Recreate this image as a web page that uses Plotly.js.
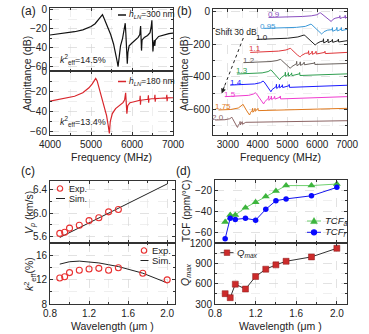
<!DOCTYPE html>
<html><head><meta charset="utf-8">
<script src="https://cdn.plot.ly/plotly-3.0.1.min.js"></script>
<style>html,body{margin:0;padding:0;background:#fff}#chart{width:369px;height:334px}</style>
</head><body><div id="chart"></div>
<script>
// ---------- Panel (a) ----------
const fA300 = [4000,4200,4400,4600,4800,5000,5100,5180,5230,5280,5320,5400,5480,5550,5600,5640,5660,5680,5720,5770,5810,5835,5850,5870,5885,5900,5930,6000,6080,6150,6190,6210,6220,6232,6245,6300,6380,6440,6470,6485,6495,6510,6525,6545,6555,6570,6650,6800,6900,7000];
const dA300 = [-26.5,-25.5,-24.5,-23,-21,-17.5,-14.5,-10.5,-7.5,-5,-9,-17,-26,-36,-45,-55,-60,-50,-38,-30,-22,-14,-25,-45,-57,-45,-38,-35,-32,-29,-26,-17,-28,-43,-32,-29,-27,-24,-17,-11,-25,-44,-36,-32,-38,-32,-28,-26,-25,-24.5];
const fA180 = [4000,4300,4600,4800,4950,5030,5080,5115,5150,5200,5270,5330,5380,5420,5448,5470,5520,5600,5700,5780,5820,5845,5858,5875,5895,5950,6050,6150,6190,6200,6206,6215,6300,6390,6400,6406,6415,6480,6550,6560,6566,6575,6700,6840,6850,6856,6865,7000];
const dA180 = [-29.5,-27,-24.5,-21,-16,-12,-8.5,-6.5,-9,-17,-27,-36,-44,-54,-62,-50,-42,-37,-34,-31,-28,-21,-30,-42,-34,-31,-30,-29,-28.5,-24,-33,-28.5,-28,-27.5,-23.5,-31,-27.5,-27,-26.8,-23,-30,-26.8,-26.5,-26.2,-23,-29.5,-26.2,-26];
const a300Label = 'h_LN=300 nm', a180Label = 'h_LN=180 nm';
const k300 = '14.5%', k180 = '13.4%';

// ---------- Panel (b) ----------
const bNames = ['0.9','0.95','1.0','1.1','1.2','1.3','1.4','1.5','1.75','2.0'];
const fB09 = [4365,5000,5500,5800,6000,6070,6100,6160,6250,6350,6440,6470,6520,6600,6700,6750,6760,6770,6850,6930,6940,6950,7000];
const dB09 = [-35,-33,-29,-25,-18,-9,-6,-14,-27,-42,-58,-60,-48,-40,-36,-35,-24,-42,-35,-34,-22,-40,-33];
const fB095 = [4197,4800,5300,5600,5740,5790,5820,5900,6000,6100,6150,6170,6230,6350,6500,6510,6520,6650,6660,6670,6800,6810,6820,7000];
const dB095 = [-102,-100,-96,-90,-82,-76,-80,-95,-112,-128,-137,-134,-122,-113,-110,-98,-120,-109,-96,-118,-108,-97,-116,-108];
const fB10 = [3975,4500,5000,5350,5500,5560,5600,5700,5800,5900,5935,5980,6100,6200,6210,6220,6350,6360,6370,6500,6510,6520,6700,6710,6720,7000];
const dB10 = [-170,-168,-163,-155,-148,-143,-148,-165,-185,-200,-205,-196,-184,-180,-166,-192,-179,-168,-190,-178,-170,-188,-178,-168,-186,-178];
const fB11 = [3750,4200,4700,4950,5060,5095,5130,5220,5330,5410,5430,5480,5600,5700,5710,5720,5820,5830,5840,5950,5960,5970,6250,6260,6270,7000];
const dB11 = [-250,-248,-242,-235,-228,-225,-230,-247,-265,-276,-277,-268,-256,-253,-240,-264,-252,-242,-262,-251,-243,-260,-250,-243,-257,-250];
const fB12 = [3525,4000,4450,4650,4730,4760,4800,4900,5000,5070,5095,5140,5250,5300,5310,5320,5420,5430,5440,5550,5560,5570,5900,5910,5920,7000];
const dB12 = [-313,-311,-306,-300,-295,-293,-298,-315,-333,-345,-348,-338,-322,-320,-305,-332,-320,-308,-330,-318,-310,-326,-316,-310,-324,-318];
const fB13 = [3302,3800,4150,4350,4410,4440,4480,4580,4680,4720,4740,4790,4880,4920,4930,4940,5020,5030,5040,5130,5140,5150,5400,5410,5420,7000];
const dB13 = [-383,-381,-376,-368,-361,-358,-364,-385,-405,-416,-418,-405,-390,-388,-372,-398,-386,-374,-396,-384,-376,-393,-382,-374,-392,-382];
const fB14 = [3077,3550,3900,4100,4160,4180,4220,4310,4400,4430,4445,4490,4580,4620,4630,4640,4720,4730,4740,4820,4830,4840,5050,5060,5070,7000];
const dB14 = [-451,-449,-444,-436,-429,-426,-432,-455,-478,-488,-492,-478,-462,-460,-446,-472,-459,-447,-468,-457,-449,-466,-455,-447,-465,-452];
const fB15 = [2909,3350,3700,3860,3905,3920,3960,4050,4150,4185,4200,4240,4320,4360,4370,4380,4450,4460,4470,4560,4570,4580,4750,4760,4770,7000];
const dB15 = [-522,-520,-514,-506,-500,-498,-504,-528,-552,-563,-567,-553,-535,-532,-518,-545,-530,-519,-540,-528,-520,-537,-526,-518,-536,-522];
const fB175 = [2684,3100,3350,3460,3495,3505,3540,3620,3700,3722,3730,3760,3820,3830,3840,3900,3910,3920,4000,4010,4020,7000];
const dB175 = [-604,-601,-592,-580,-572,-569,-578,-605,-628,-634,-635,-620,-606,-594,-618,-603,-594,-613,-600,-594,-608,-594];
const fB20 = [2573,2900,3060,3120,3135,3160,3220,3290,3315,3325,3350,3400,3410,3420,3470,3480,3490,3600,7000];
const dB20 = [-666,-664,-658,-652,-649,-658,-682,-704,-710,-711,-698,-686,-675,-696,-683,-676,-692,-680,-670];

// ---------- Panel (c) ----------
const wlVpExp = [0.9,0.95,1.0,1.1,1.2,1.3,1.4,1.5];
const vpExp = [5.65,5.67,5.74,5.79,5.87,5.92,6.02,6.06];
const wlVpSim = [0.9,2.0];
const vpSim = [5.58,6.50];
const wlK2Exp = [0.9,0.95,1.0,1.1,1.2,1.3,1.4,1.5,1.75,2.0];
const k2Exp = [12.3,12.5,13.2,13.6,13.8,13.9,13.6,14.0,13.1,12.0];
const wlK2Sim = [0.9,1.0,1.1,1.2,1.3,1.4,1.5,1.75,2.0];
const k2Sim = [14.6,15.0,15.1,15.0,14.8,14.5,14.2,13.1,11.5];

// ---------- Panel (d) ----------
const wlD = [0.9,0.95,1.0,1.1,1.2,1.3,1.4,1.5,1.75,2.0];
const tcfA = [-50.5,-43.8,-43.8,-36.8,-31.6,-26.3,-21,-15.8,-15.8,-14.3];
const tcfR = [-66.4,-46.8,-48,-47,-48.7,-38.4,-30.2,-28.5,-25.5,-17.5];
const qMax = [453,394,594,521,707,815,879,932,997,1124];

// ---------- rendering ----------
const FONT = 'Liberation Sans, Arial, sans-serif';
const W = 369, H = 334;
const px = x => x / W, py = y => 1 - y / H;

function axis(o) {
  return Object.assign({
    showline: true, linecolor: '#333', linewidth: 1, mirror: 'ticks',
    ticks: 'inside', ticklen: 3, tickcolor: '#333', tickwidth: 1,
    showgrid: true, gridcolor: '#d6d6d6', griddash: 'dash', gridwidth: 0.7,
    zeroline: false, automargin: false, fixedrange: true,
    tickfont: {family: FONT, size: 10, color: '#222'}
  }, o);
}
function minor(d) { return {dtick: d, ticks: 'inside', ticklen: 2, tickcolor: '#333', showgrid: true, gridcolor: '#e4e4e4', griddash: 'dash', gridwidth: 0.6}; }

const traces = [];
traces.push({x: fA300, y: dA300, xaxis: 'x', yaxis: 'y', mode: 'lines', line: {color: '#111', width: 1.2}, hoverinfo: 'skip'});
traces.push({x: fA180, y: dA180, xaxis: 'x2', yaxis: 'y2', mode: 'lines', line: {color: '#d8262c', width: 1.2}, hoverinfo: 'skip'});

const bF = [fB09, fB095, fB10, fB11, fB12, fB13, fB14, fB15, fB175, fB20];
const bD = [dB09, dB095, dB10, dB11, dB12, dB13, dB14, dB15, dB175, dB20];
const bColors = ['#8a4fc0', '#3a98d8', '#222222', '#e0363a', '#6a625e', '#2f9e50', '#1a1aff', '#f03ccf', '#e07a1e', '#8c6464'];
for (let i = 0; i < bF.length; i++) {
  traces.push({x: bF[i], y: bD[i], xaxis: 'x3', yaxis: 'y3', mode: 'lines', line: {color: bColors[i], width: 1}, hoverinfo: 'skip'});
}

traces.push({x: wlVpSim, y: vpSim, xaxis: 'x4', yaxis: 'y4', mode: 'lines', line: {color: '#222', width: 1}});
traces.push({x: wlVpExp, y: vpExp, xaxis: 'x4', yaxis: 'y4', mode: 'markers', marker: {symbol: 'circle-open', size: 6, color: '#e83030', line: {width: 1.1}}});
traces.push({x: wlK2Sim, y: k2Sim, xaxis: 'x5', yaxis: 'y5', mode: 'lines', line: {color: '#222', width: 1}});
traces.push({x: wlK2Exp, y: k2Exp, xaxis: 'x5', yaxis: 'y5', mode: 'markers', marker: {symbol: 'circle-open', size: 6, color: '#e83030', line: {width: 1.1}}});

traces.push({x: wlD, y: tcfA, xaxis: 'x6', yaxis: 'y6', mode: 'lines+markers', line: {color: '#6fd06f', width: 1}, marker: {symbol: 'triangle-up', size: 7, color: '#3db53d'}});
traces.push({x: wlD, y: tcfR, xaxis: 'x6', yaxis: 'y6', mode: 'lines+markers', line: {color: '#1515ee', width: 1}, marker: {symbol: 'circle', size: 5.5, color: '#0a0aff'}});
traces.push({x: wlD, y: qMax, xaxis: 'x7', yaxis: 'y7', mode: 'lines+markers', line: {color: '#333', width: 1}, marker: {symbol: 'square', size: 6, color: '#cc2b2b', line: {color: '#8a1a1a', width: 0.5}}});

const fmt = s => s.replace(/^h_LN/, '<i>h</i><sub><i>LN</i></sub>');

const annotations = [];
function txt(x, y, text, o) {
  o = o || {};
  return Object.assign({xref: 'paper', yref: 'paper', x: px(x), y: py(y), text: text, showarrow: false,
    xanchor: o.xa || 'center', yanchor: 'middle', textangle: o.rot || 0,
    font: {family: FONT, size: o.size || 11, color: o.color || '#222'}});
}
// panel labels
annotations.push(txt(28, 11, '(a)', {size: 12}));
annotations.push(txt(184, 11, '(b)', {size: 12}));
annotations.push(txt(28, 171, '(c)', {size: 12}));
annotations.push(txt(183, 171, '(d)', {size: 12}));
// axis titles
annotations.push(txt(27, 74, 'Admittance (dB)', {rot: -90, size: 10.5}));
annotations.push(txt(111, 157, 'Frequency (MHz)', {size: 10.5}));
annotations.push(txt(184, 74, 'Admittance (dB)', {rot: -90, size: 10.5}));
annotations.push(txt(280, 157, 'Frequency (MHz)', {size: 10.5}));
annotations.push(txt(30, 213, '<i>V</i><sub><i>p</i></sub> (km/s)', {rot: -90, size: 10.5}));
annotations.push(txt(30, 274, '<i>k</i><sup>2</sup><sub>eff</sub>(%)', {rot: -90, size: 10.5}));
annotations.push(txt(112, 325.5, 'Wavelength (μm )', {size: 10.5}));
annotations.push(txt(186, 211, 'TCF (ppm/°C)', {rot: -90, size: 10}));
annotations.push(txt(186, 275, '<i>Q</i><sub><i>max</i></sub>', {rot: -90, size: 10.5}));
annotations.push(txt(280, 325.5, 'Wavelength (μm )', {size: 10.5}));
// panel a texts
annotations.push(txt(127, 15, fmt(a300Label), {xa: 'left', size: 8.5}));
annotations.push(txt(127, 81.5, fmt(a180Label), {xa: 'left', size: 8.5}));
annotations.push(txt(58, 60, '<i>k</i><sup>2</sup><sub>eff</sub>=' + k300, {xa: 'left', size: 9}));
annotations.push(txt(58, 121.5, '<i>k</i><sup>2</sup><sub>eff</sub>=' + k180, {xa: 'left', size: 9}));
// panel b texts
const bLabelPos = [[4532, -14], [4336, -92], [4143, -157], [3917, -229], [3693, -297], [3470, -363], [3269, -432], [3077, -508], [2852, -580], [2664, -649]];
for (let i = 0; i < bNames.length; i++) {
  annotations.push({xref: 'x3', yref: 'y3', x: bLabelPos[i][0], y: bLabelPos[i][1], text: bNames[i], showarrow: false,
    xanchor: 'center', yanchor: 'middle', font: {family: FONT, size: 8, color: bColors[i]}});
}
annotations.push(txt(236, 32.5, 'Shift 30 dB', {size: 8.5}));
annotations.push({xref: 'paper', yref: 'paper', x: px(221.7), y: py(93.5), ax: 3.2, ay: -8.5, text: '', showarrow: true,
  arrowhead: 2, arrowsize: 1, arrowwidth: 1, arrowcolor: '#222'});
// legends c, d
annotations.push(txt(67, 188.5, 'Exp.', {xa: 'left', size: 9}));
annotations.push(txt(67, 198.5, 'Sim.', {xa: 'left', size: 9}));
annotations.push(txt(150, 250.5, 'Exp.', {xa: 'left', size: 9.5}));
annotations.push(txt(150, 260.5, 'Sim.', {xa: 'left', size: 9.5}));
annotations.push(txt(323, 221, '<i>TCF</i><sub><i>a</i></sub>', {xa: 'left', size: 9.5}));
annotations.push(txt(323, 232.3, '<i>TCF</i><sub><i>r</i></sub>', {xa: 'left', size: 9.5}));
annotations.push(txt(235, 252.7, '<i>Q</i><sub><i>max</i></sub>', {xa: 'left', size: 9.5}));

function hline(x0, x1, y, color, w, dash) { return {type: 'line', xref: 'paper', yref: 'paper', x0: px(x0), x1: px(x1), y0: py(y), y1: py(y), line: {color: color, width: w || 1.2, dash: dash || 'solid'}}; }
function circ(cx, cy, r, color, fill) { return {type: 'circle', xref: 'paper', yref: 'paper', x0: px(cx - r), x1: px(cx + r), y0: py(cy + r), y1: py(cy - r), line: {color: color, width: 1.1}, fillcolor: fill || 'rgba(0,0,0,0)'}; }
function sq(cx, cy, r, color) { return {type: 'rect', xref: 'paper', yref: 'paper', x0: px(cx - r), x1: px(cx + r), y0: py(cy + r), y1: py(cy - r), line: {color: '#8a1a1a', width: 0.5}, fillcolor: color}; }
function tri(cx, cy, r, color) { return {type: 'path', xref: 'paper', yref: 'paper', path: 'M ' + px(cx) + ' ' + py(cy - r) + ' L ' + px(cx + r) + ' ' + py(cy + r * 0.75) + ' L ' + px(cx - r) + ' ' + py(cy + r * 0.75) + ' Z', line: {color: color, width: 0.5}, fillcolor: color}; }

const shapes = [
  hline(118, 126, 15, '#111', 1.5),
  hline(118, 126, 81.5, '#d8262c', 1.5),
  {type: 'line', xref: 'paper', yref: 'paper', x0: px(243.3), y0: py(38), x1: px(223), y1: py(90), line: {color: '#222', width: 1, dash: 'dot'}},
  circ(60, 188.5, 2.7, '#e83030'),
  hline(56, 65, 198.5, '#222', 1),
  circ(144, 250.5, 2.7, '#e83030'),
  hline(140.5, 148.5, 260.5, '#222', 1),
  hline(307, 321, 221, '#6fd06f', 1),
  tri(314, 221, 3.4, '#3db53d'),
  hline(307, 321, 232.3, '#1515ee', 1),
  circ(314, 232.3, 2.6, '#0a0aff', '#0a0aff'),
  hline(220.5, 233.5, 252.7, '#333', 1),
  sq(227, 252.7, 2.8, '#cc2b2b')
];

const xa = [px(50), px(173)], xb = [px(213), px(347)], xc = [px(50), px(175)], xd = [px(215), px(347)];
const layout = {
  width: W, height: H, margin: {l: 0, r: 0, t: 0, b: 0}, showlegend: false,
  paper_bgcolor: '#fff', plot_bgcolor: '#fff',
  font: {family: FONT, size: 10, color: '#222'},
  xaxis: axis({domain: xa, anchor: 'y', range: [4000, 7000], dtick: 1000, tick0: 4000, showticklabels: false, minor: minor(500)}),
  yaxis: axis({domain: [py(71), py(8)], anchor: 'x', range: [-64.6, 2.1], dtick: 20, tick0: 0, minor: minor(10)}),
  xaxis2: axis({domain: xa, anchor: 'y2', range: [4000, 7000], dtick: 1000, tick0: 4000, minor: minor(500)}),
  yaxis2: axis({domain: [py(135), py(71)], anchor: 'x2', range: [-63.6, 1], dtick: 20, tick0: 0, minor: minor(10)}),
  xaxis3: axis({domain: xb, anchor: 'y3', range: [2500, 7000], dtick: 1000, tick0: 3000, minor: minor(500)}),
  yaxis3: axis({domain: [py(135), py(9)], anchor: 'x3', range: [-758, 17], dtick: 200, tick0: 0, minor: minor(100)}),
  xaxis4: axis({domain: xc, anchor: 'y4', range: [0.8, 2.08], dtick: 0.4, tick0: 0.8, showticklabels: false, minor: minor(0.2)}),
  yaxis4: axis({domain: [py(243), py(181)], anchor: 'x4', range: [5.485, 6.55], dtick: 0.4, tick0: 5.6, tickformat: '.1f', minor: minor(0.2)}),
  xaxis5: axis({domain: xc, anchor: 'y5', range: [0.8, 2.08], dtick: 0.4, tick0: 0.8, tickformat: '.1f', minor: minor(0.2)}),
  yaxis5: axis({domain: [py(304), py(243)], anchor: 'x5', range: [8, 18.1], dtick: 4, tick0: 8, minor: minor(2)}),
  xaxis6: axis({domain: xd, anchor: 'y6', range: [0.8, 2.1], dtick: 0.4, tick0: 0.8, showticklabels: false, minor: minor(0.2)}),
  yaxis6: axis({domain: [py(242.5), py(179.5)], anchor: 'x6', range: [-70, -10], dtick: 20, tick0: -60, minor: minor(10)}),
  xaxis7: axis({domain: xd, anchor: 'y7', range: [0.8, 2.1], dtick: 0.4, tick0: 0.8, tickformat: '.1f', minor: minor(0.2)}),
  yaxis7: axis({domain: [py(304), py(242.5)], anchor: 'x7', range: [300, 1210], dtick: 300, tick0: 300, minor: minor(150)}),
  annotations: annotations,
  shapes: shapes
};
Plotly.newPlot('chart', traces, layout, {staticPlot: true, displayModeBar: false});
</script></body></html>
